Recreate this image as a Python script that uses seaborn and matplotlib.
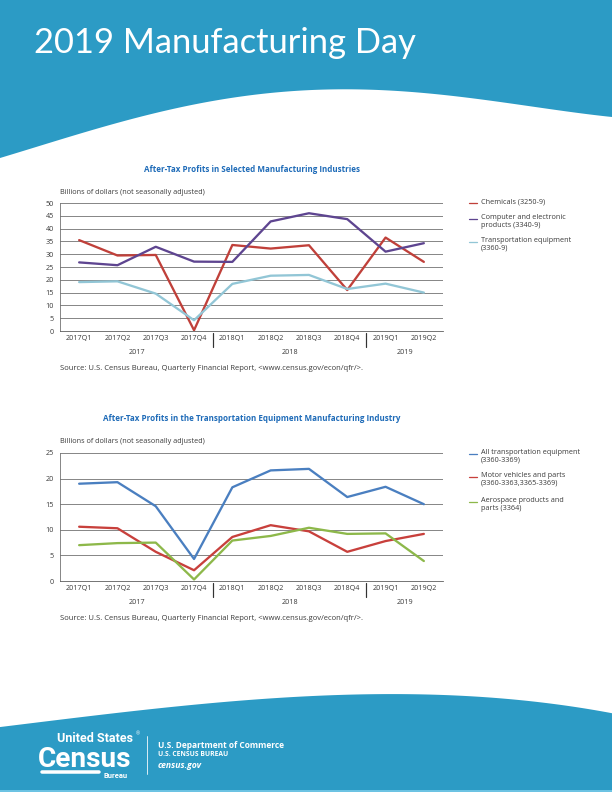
import numpy as np
import pandas as pd
import matplotlib
matplotlib.use("Agg")
import matplotlib.pyplot as plt
import matplotlib.transforms as mtransforms
import seaborn as sns

# --- datos ---
quarters = ["2017Q1", "2017Q2", "2017Q3", "2017Q4", "2018Q1",
            "2018Q2", "2018Q3", "2018Q4", "2019Q1", "2019Q2"]
years = ["2017", "2018", "2019"]

chemicals = [35.5, 29.5, 29.7, 0.3, 33.6, 32.2, 33.5, 16.0, 36.5, 27.0]
computer = [26.8, 25.7, 32.9, 27.1, 27.0, 42.8, 46.0, 43.7, 31.0, 34.3]
transport = [19.1, 19.4, 14.6, 4.2, 18.4, 21.6, 21.9, 16.4, 18.5, 15.0]

all_transport = [19.0, 19.3, 14.6, 4.3, 18.3, 21.6, 21.9, 16.4, 18.4, 15.0]
motor_vehicles = [10.6, 10.3, 5.7, 2.1, 8.6, 10.9, 9.7, 5.7, 7.8, 9.2]
aerospace = [7.0, 7.4, 7.5, 0.3, 7.9, 8.8, 10.4, 9.2, 9.3, 3.9]

labels1 = ["Chemicals (3250-9)",
           "Computer and electronic\nproducts (3340-9)",
           "Transportation equipment\n(3360-9)"]
labels2 = ["All transportation equipment\n(3360-3369)",
           "Motor vehicles and parts\n(3360-3363,3365-3369)",
           "Aerospace products and\nparts (3364)"]

colors1 = ["#c0403a", "#5e4590", "#92c6d6"]
colors2 = ["#4a7fc0", "#c8403c", "#8db84a"]

BLUE = "#2c9bc5"
TITLE_BLUE = "#1e6bb8"
TXT = "#3a3a3a"

sns.set_style("white")
plt.rcParams["font.family"] = ["Open Sans", "DejaVu Sans"]

fig = plt.figure(figsize=(8.5, 11), dpi=72)

# fondo en coordenadas de pixel
bg = fig.add_axes([0, 0, 1, 1])
bg.set_xlim(0, 612)
bg.set_ylim(792, 0)
bg.axis("off")

xs = np.linspace(0, 612, 300)
top_curve = np.polyval(np.polyfit([0, 117, 312, 470, 612], [158, 123, 90, 98, 117], 4), xs)
bg.fill_between(xs, 0, top_curve, color=BLUE, lw=0)
bot_curve = np.polyval(np.polyfit([0, 53, 117, 312, 470, 612], [727, 720, 714, 695, 697, 713], 3), xs)
bg.fill_between(xs, bot_curve, 792, color=BLUE, lw=0)
bg.fill_between([0, 612], 790, 792, color="#6cc3e3", lw=0)

bg.text(34, 43, "2019 Manufacturing Day", color="white", fontsize=34.5,
        fontweight="normal", va="center", ha="left", family=["Lato", "DejaVu Sans"])

# logo / pie
bg.text(57, 738, "United States", color="white", fontsize=12.5, fontweight="bold",
        va="center", ha="left", family=["Roboto", "DejaVu Sans"])
bg.text(136, 734, "®", color="white", fontsize=5, va="center", ha="left")
bg.text(38, 767, "Census", color="white", fontsize=28, fontweight="bold",
        va="baseline", ha="left", family=["Roboto", "DejaVu Sans"])
bg.plot([42, 99], [772, 772], color="white", lw=3.5, solid_capstyle="round")
bg.text(103, 775, "Bureau", color="white", fontsize=7.5, fontweight="bold",
        va="center", ha="left", family=["Roboto", "DejaVu Sans"])
bg.plot([147, 147], [736, 774], color="white", lw=0.8)
bg.text(158, 745, "U.S. Department of Commerce", color="white", fontsize=8.4,
        fontweight="bold", va="center", ha="left")
bg.text(158, 755, "U.S. CENSUS BUREAU", color="white", fontsize=6.8,
        fontweight="bold", va="center", ha="left")
bg.text(158, 765, "census.gov", color="white", fontsize=8.6, fontweight="bold",
        style="italic", va="center", ha="left")


def long_df(series, names):
    rows = []
    for vals, name in zip(series, names):
        for i, v in enumerate(vals):
            rows.append({"pos": i, "quarter": quarters[i], "series": name, "value": v})
    return pd.DataFrame(rows)


def draw_chart(top, bottom, df, names, colors, ymax, title, legend_ys):
    ax = fig.add_axes([60 / 612, 1 - bottom / 792, 383 / 612, (bottom - top) / 792])
    sns.lineplot(data=df, x="pos", y="value", hue="series", hue_order=names,
                 palette=dict(zip(names, colors)), sort=False, legend=False,
                 linewidth=2.3, ax=ax, zorder=3)
    n = len(quarters)
    ax.set_xlim(-0.5, n - 0.5)
    ax.set_ylim(0, ymax)
    ax.set_yticks(np.arange(0, ymax + 1, 5))
    ax.yaxis.grid(True, color="#6a6a6a", lw=0.8)
    ax.set_axisbelow(True)
    ax.tick_params(axis="y", length=0, pad=6, labelsize=7.2, labelcolor=TXT)
    ax.set_xticks(np.arange(n) + 0.5)
    ax.set_xticklabels([])
    ax.tick_params(axis="x", which="major", direction="in", length=3, color="#555555", width=0.8)
    ax.set_xticks(np.arange(n), minor=True)
    ax.set_xticklabels(quarters, minor=True)
    ax.tick_params(axis="x", which="minor", length=0, pad=4, labelsize=7.2, labelcolor=TXT)
    ax.set_xlabel("")
    ax.set_ylabel("")
    for s in ["top", "right"]:
        ax.spines[s].set_visible(False)
    ax.spines["left"].set_color("#6a6a6a")
    ax.spines["left"].set_linewidth(0.8)
    ax.spines["bottom"].set_color("#555555")
    ax.spines["bottom"].set_linewidth(0.8)

    trans = mtransforms.blended_transform_factory(ax.transData, ax.transAxes)
    h = bottom - top
    for b in [3.5, 7.5]:
        ax.plot([b, b], [-2 / h, -16 / h], color="#333333", lw=1.2,
                transform=trans, clip_on=False)
    for yr, c in zip(years, [1.5, 5.5, 8.5]):
        ax.text(c, -21 / h, yr, transform=trans, ha="center", va="center",
                fontsize=7.2, color=TXT)

    ax.text(0, 1 + 11 / h, "Billions of dollars (not seasonally adjusted)",
            transform=ax.transAxes, ha="left", va="center", fontsize=7.3, color=TXT)
    ax.text(0.5, 1 + 34 / h, title, transform=ax.transAxes, ha="center",
            va="center", fontsize=8, fontweight="bold", color=TITLE_BLUE)
    ax.text(0, -38 / h, "Source: U.S. Census Bureau, Quarterly Financial Report, <www.census.gov/econ/qfr/>.",
            transform=ax.transAxes, ha="left", va="center", fontsize=7.6, color=TXT)

    for name, col, y in zip(names, colors, legend_ys):
        bg.plot([469, 477], [y, y], color=col, lw=1.3)
        bg.text(481, y - 4.6, name, ha="left", va="top", fontsize=7.3,
                color=TXT, linespacing=1.05)
    return ax


df1 = long_df([chemicals, computer, transport], labels1)
draw_chart(203, 331, df1, labels1, colors1, 50,
           "After-Tax Profits in Selected Manufacturing Industries", [203, 219, 242])

df2 = long_df([all_transport, motor_vehicles, aerospace], labels2)
draw_chart(453, 581, df2, labels2, colors2, 25,
           "After-Tax Profits in the Transportation Equipment Manufacturing Industry", [454, 477, 502])

fig.savefig("out.png", dpi=72)
